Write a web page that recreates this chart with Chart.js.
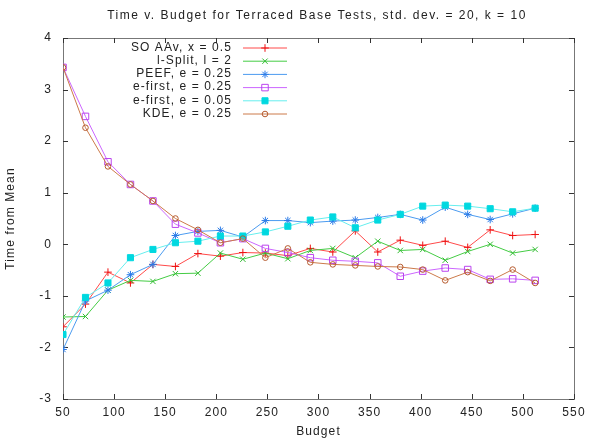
<!DOCTYPE html>
<html>
<head>
<meta charset="utf-8">
<script src="https://cdn.jsdelivr.net/npm/chart.js@4/dist/chart.umd.min.js"></script>
<style>
  html, body { margin: 0; padding: 0; background: #fff; }
  #wrap { width: 590px; height: 438px; }
</style>
</head>
<body>
<div id="wrap"><canvas id="budget-chart"></canvas></div>
<script>
const budgets = [50, 72, 94, 116, 138, 160, 182, 204, 226, 248, 270, 292, 314, 336, 358, 380, 402, 424, 446, 468, 490, 512];

const soaav = [-1.60, -1.16, -0.54, -0.75, -0.39, -0.43, -0.18, -0.23, -0.16, -0.17, -0.22, -0.08, -0.15, 0.26, -0.15, 0.08, -0.02, 0.06, -0.06, 0.28, 0.17, 0.19];
const lsplit = [-1.41, -1.40, -0.89, -0.70, -0.72, -0.57, -0.56, -0.17, -0.29, -0.17, -0.28, -0.12, -0.08, -0.26, 0.06, -0.12, -0.10, -0.31, -0.14, 0.00, -0.17, -0.10];
const peef = [-2.04, -1.10, -0.89, -0.59, -0.39, 0.17, 0.25, 0.27, 0.14, 0.46, 0.46, 0.42, 0.45, 0.47, 0.52, 0.58, 0.47, 0.72, 0.58, 0.48, 0.59, 0.70];
const efirst25 = [3.43, 2.48, 1.60, 1.16, 0.84, 0.39, 0.22, 0.03, 0.11, -0.08, -0.16, -0.26, -0.31, -0.33, -0.36, -0.62, -0.52, -0.46, -0.49, -0.68, -0.67, -0.70];
const efirst05 = [-1.75, -1.03, -0.75, -0.26, -0.10, 0.03, 0.06, 0.16, 0.16, 0.24, 0.35, 0.47, 0.53, 0.32, 0.47, 0.58, 0.74, 0.76, 0.74, 0.69, 0.63, 0.70];
const kde = [3.43, 2.26, 1.51, 1.16, 0.84, 0.50, 0.28, 0.03, 0.11, -0.26, -0.08, -0.35, -0.39, -0.41, -0.43, -0.44, -0.49, -0.70, -0.54, -0.71, -0.49, -0.75];

const seriesLabels = ['SO AAv, x = 0.5', 'l-Split, l = 2', 'PEEF, e = 0.25', 'e-first, e = 0.25', 'e-first, e = 0.05', 'KDE, e = 0.25'];
const chartTitle = 'Time v. Budget for Terraced Base Tests, std. dev. = 20, k = 10';

const FONT = '"Liberation Sans", Arial, sans-serif';
const TEXT_COLOR = '#222';

function pts(values) {
    return budgets.map((b, i) => ({x: b, y: values[i]}));
}

function series(idx, values, line, marker, style, radius, filled) {
    return {
        label: seriesLabels[idx],
        data: pts(values),
        borderColor: line,
        borderWidth: 1,
        tension: 0,
        fill: false,
        pointStyle: style,
        pointRadius: radius,
        pointBorderColor: marker,
        pointBorderWidth: 1,
        pointBackgroundColor: filled ? marker : 'rgba(0,0,0,0)',
        order: 5 - idx
    };
}

const datasets = [
    series(0, soaav, '#ff4a4a', '#ee1111', 'cross', 3.8, false),
    series(1, lsplit, '#44cc44', '#33bb33', 'crossRot', 3.8, false),
    series(2, peef, '#4b9bf0', '#2a7be8', 'star', 3.8, false),
    series(3, efirst25, '#cc66ff', '#bb44ee', 'rect', 4.6, false),
    series(4, efirst05, '#66eeee', '#00d8e0', 'rect', 4.3, true),
    series(5, kde, '#cc7a4a', '#b55a2e', 'circle', 2.8, false)
];

// the reference text is a bit wider than plain Arial
const spacingPlugin = {
    id: 'spacing',
    beforeDraw(chart) {
        chart.ctx.letterSpacing = '1.1px';
    }
};

// gnuplot-like frame with inward ticks on all four sides
const framePlugin = {
    id: 'frame',
    beforeDatasetsDraw(chart) {
        const {ctx, chartArea: a, scales: {x, y}} = chart;
        ctx.save();
        ctx.strokeStyle = '#777';
        ctx.lineWidth = 1;
        ctx.strokeRect(Math.round(a.left) + 0.5, Math.round(a.top) + 0.5,
            Math.round(a.right - a.left), Math.round(a.bottom - a.top));
        ctx.beginPath();
        x.ticks.forEach(t => {
            const px = Math.round(x.getPixelForValue(t.value)) + 0.5;
            ctx.moveTo(px, a.bottom); ctx.lineTo(px, a.bottom - 5);
            ctx.moveTo(px, a.top); ctx.lineTo(px, a.top + 5);
        });
        y.ticks.forEach(t => {
            const py = Math.round(y.getPixelForValue(t.value)) + 0.5;
            ctx.moveTo(a.left, py); ctx.lineTo(a.left + 5, py);
            ctx.moveTo(a.right, py); ctx.lineTo(a.right - 5, py);
        });
        ctx.strokeStyle = '#333';
        ctx.stroke();
        ctx.restore();
    }
};

// title centred over the plot, legend inside the plot with samples on the right
const textPlugin = {
    id: 'gnuText',
    afterDatasetsDraw(chart) {
        const {ctx, chartArea: a} = chart;
        ctx.save();
        ctx.fillStyle = TEXT_COLOR;
        ctx.font = '12px ' + FONT;
        ctx.textAlign = 'center';
        ctx.textBaseline = 'middle';
        ctx.letterSpacing = '1.5px';
        ctx.fillText(chartTitle, 317, 16);
        ctx.letterSpacing = '1.1px';

        ctx.textAlign = 'right';
        chart.data.datasets.forEach((ds, i) => {
            const ly = a.top + 9.5 + i * 13.2;
            ctx.fillStyle = TEXT_COLOR;
            ctx.fillText(ds.label, a.left + 169, ly);
            ctx.beginPath();
            ctx.strokeStyle = ds.borderColor;
            ctx.lineWidth = 1;
            ctx.moveTo(a.left + 180, ly + 0.5);
            ctx.lineTo(a.left + 224, ly + 0.5);
            ctx.stroke();
            ctx.strokeStyle = ds.pointBorderColor;
            ctx.fillStyle = ds.pointBackgroundColor;
            Chart.helpers.drawPoint(ctx, {
                pointStyle: ds.pointStyle,
                radius: ds.pointRadius,
                rotation: 0,
                borderWidth: 1
            }, a.left + 202, ly + 0.5);
        });
        ctx.restore();
    }
};

const ctx = document.getElementById('budget-chart').getContext('2d');

new Chart(ctx, {
    type: 'line',
    data: {datasets: datasets},
    options: {
        animation: false,
        responsive: true,
        maintainAspectRatio: false,
        events: [],
        layout: {padding: {top: 38, right: 12, left: 0, bottom: 0}},
        plugins: {
            legend: {display: false},
            title: {display: false},
            tooltip: {enabled: false}
        },
        scales: {
            x: {
                type: 'linear',
                min: 50,
                max: 550,
                grid: {display: false, drawTicks: false},
                border: {display: false},
                ticks: {stepSize: 50, padding: 6, color: TEXT_COLOR, font: {family: FONT, size: 12}, maxRotation: 0},
                title: {display: true, text: 'Budget', color: TEXT_COLOR, font: {family: FONT, size: 12, lineHeight: 1}, padding: {top: 0, bottom: 0}},
                afterFit(scale) { scale.height = 39; }
            },
            y: {
                type: 'linear',
                min: -3,
                max: 4,
                grid: {display: false, drawTicks: false},
                border: {display: false},
                ticks: {stepSize: 1, padding: 11, color: TEXT_COLOR, font: {family: FONT, size: 12}},
                title: {display: true, text: 'Time from Mean', color: TEXT_COLOR, font: {family: FONT, size: 12, lineHeight: 1}, padding: {top: 5, bottom: 0}},
                afterFit(scale) { scale.width = 63; }
            }
        }
    },
    plugins: [spacingPlugin, framePlugin, textPlugin]
});
</script>
</body>
</html>
